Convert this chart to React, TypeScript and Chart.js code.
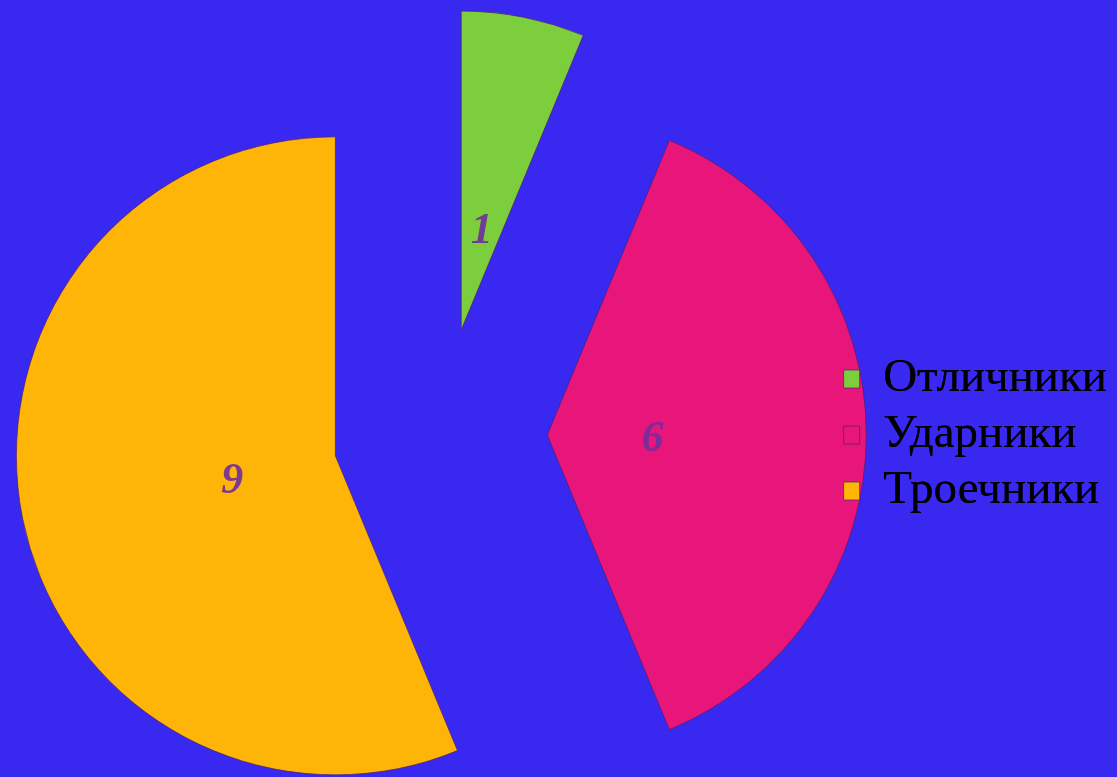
import React, { useEffect, useRef } from 'react';
import { Chart, registerables } from 'chart.js';

Chart.register(...registerables);

const categories: string[] = ['Отличники', 'Ударники', 'Троечники'];
const values: number[] = [1, 6, 9];
const sliceColors: string[] = ['#7DCE3C', '#E8167A', '#FFB508'];

const BG = '#3928EF';

const explodePlugin = {
  id: 'explodeSlices',
  beforeDatasetDraw(chart: any, args: any, opts: any) {
    const ctx = chart.ctx;
    const d = opts.distance || 0;
    args.meta.data.forEach((arc: any) => {
      const mid = (arc.startAngle + arc.endAngle) / 2;
      ctx.save();
      ctx.translate(Math.cos(mid) * d, Math.sin(mid) * d);
      arc.draw(ctx);
      ctx.restore();
    });
    return false;
  },
  afterDatasetsDraw(chart: any, _args: any, opts: any) {
    const ctx = chart.ctx;
    const d = opts.distance || 0;
    const meta = chart.getDatasetMeta(0);
    const data = chart.data.datasets[0].data;
    ctx.save();
    ctx.font = opts.labelFont;
    ctx.fillStyle = opts.labelColor;
    ctx.textAlign = 'center';
    ctx.textBaseline = 'middle';
    meta.data.forEach((arc: any, i: number) => {
      const mid = (arc.startAngle + arc.endAngle) / 2;
      const r = d + arc.outerRadius * opts.labelRatio;
      ctx.fillText(
        String(data[i]),
        arc.x + Math.cos(mid) * r,
        arc.y + Math.sin(mid) * r + (opts.labelShiftY || 0)
      );
    });
    ctx.restore();
    // legend sits on top of the slices
    if (chart.legend) chart.legend.draw();
  },
};

export default function App() {
  const ref = useRef<HTMLCanvasElement | null>(null);

  useEffect(() => {
    document.body.style.margin = '0';
    document.body.style.background = BG;
    if (!ref.current) return;
    const chart = new Chart(ref.current, {
      type: 'pie',
      data: {
        labels: categories,
        datasets: [
          {
            data: values,
            backgroundColor: sliceColors,
            borderColor: 'rgba(80, 30, 110, 0.7)',
            borderWidth: 1,
            radius: 319,
          },
        ],
      },
      options: {
        responsive: false,
        animation: false,
        devicePixelRatio: 1,
        layout: { padding: { top: 93, left: 46, right: 0, bottom: 0 } },
        plugins: {
          tooltip: { enabled: false },
          legend: {
            position: 'right',
            labels: {
              color: '#000000',
              font: { family: 'Liberation Serif', size: 47 },
              boxWidth: 16,
              boxHeight: 18,
              padding: 9,
            },
          },
          explodeSlices: {
            distance: 107,
            labelRatio: 0.33,
            labelShiftY: 5,
            labelFont: 'italic bold 44px "Liberation Serif"',
            labelColor: 'rgba(112, 44, 160, 0.9)',
          },
        } as any,
      },
      plugins: [explodePlugin],
    });
    return () => chart.destroy();
  }, []);

  return (
    <div style={{ position: 'fixed', left: 0, top: 0, width: 1117, height: 777, background: BG }}>
      <canvas ref={ref} width={1117} height={777} style={{ width: 1117, height: 777, display: 'block' }} />
    </div>
  );
}
